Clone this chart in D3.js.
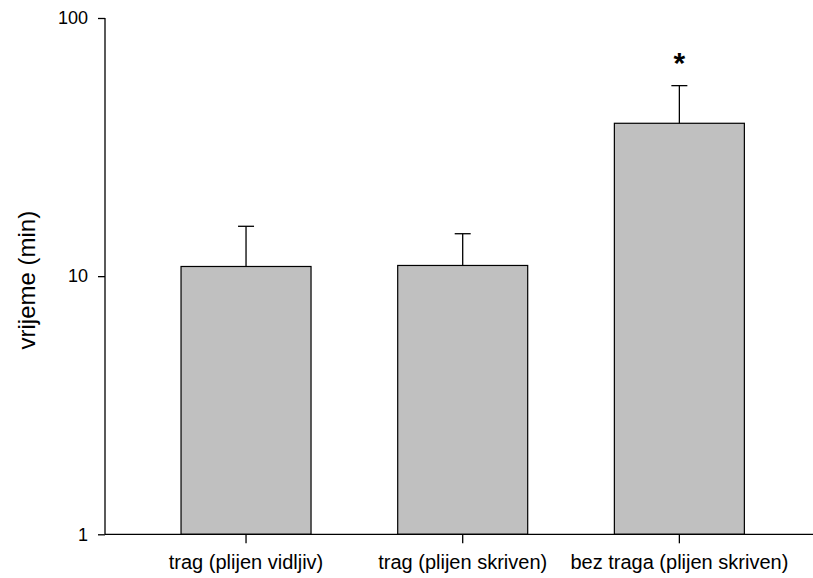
<!DOCTYPE html>
<html>
<head>
<meta charset="utf-8">
<script src="https://cdn.jsdelivr.net/npm/d3@7"></script>
<style>
  html, body { margin: 0; padding: 0; background: #fff; }
  svg { display: block; font-family: Arial, "Liberation Sans", Helvetica, sans-serif; }
</style>
</head>
<body>
<svg id="chart" width="813" height="578"></svg>
<script>
// Mean time per condition, with the upper error bar value (log axis)
const categories = ["trag (plijen vidljiv)", "trag (plijen skriven)", "bez traga (plijen skriven)"];
const means = [10.9, 11.0, 39.1];
const errorTops = [15.6, 14.6, 54.7];
const significance = ["", "", "*"];
const yTicks = [1, 10, 100];
const yTitle = "vrijeme (min)";

const svg = d3.select("#chart");
const plotLeft = 105, plotRight = 813, plotTop = 18, plotBottom = 534.3;

const x = d3.scaleBand()
  .domain(categories)
  .range([137.7, 787.7])
  .paddingInner(0.4)
  .paddingOuter(0.2);

const y = d3.scaleLog()
  .domain([1, 100])
  .range([plotBottom, plotTop]);

// bars
svg.append("g").selectAll("rect")
  .data(categories)
  .join("rect")
  .attr("x", d => x(d))
  .attr("width", x.bandwidth())
  .attr("y", (d, i) => y(means[i]))
  .attr("height", (d, i) => y(1) - y(means[i]))
  .attr("fill", "#c0c0c0")
  .attr("stroke", "#000")
  .attr("stroke-width", 1.2);

// upper error bars
const err = svg.append("g").attr("stroke", "#000").attr("stroke-width", 1.3);
categories.forEach((c, i) => {
  const cx = x(c) + x.bandwidth() / 2;
  err.append("line")
    .attr("x1", cx).attr("x2", cx)
    .attr("y1", y(means[i])).attr("y2", y(errorTops[i]));
  err.append("line")
    .attr("x1", cx - 8).attr("x2", cx + 8)
    .attr("y1", y(errorTops[i])).attr("y2", y(errorTops[i]));
});

// significance marks
svg.append("g").selectAll("text")
  .data(categories)
  .join("text")
  .attr("x", d => x(d) + x.bandwidth() / 2)
  .attr("y", (d, i) => y(errorTops[i]) - 13)
  .attr("text-anchor", "middle")
  .attr("font-size", 30)
  .attr("font-weight", "bold")
  .text((d, i) => significance[i]);

// y axis
const yAxis = svg.append("g")
  .attr("transform", `translate(${plotLeft},0)`)
  .call(d3.axisLeft(y).tickValues(yTicks).tickFormat(d3.format("d")).tickSize(7).tickPadding(10));
yAxis.select(".domain").attr("d", `M0,${plotTop}V${plotBottom}`).attr("stroke-width", 1.3);
yAxis.selectAll(".tick line").attr("stroke-width", 1.3);
yAxis.selectAll(".tick text").attr("font-size", 18).attr("fill", "#000")
  .attr("font-family", "Arial, 'Liberation Sans', sans-serif");

// x axis
const xAxis = svg.append("g")
  .attr("transform", `translate(0,${plotBottom})`)
  .call(d3.axisBottom(x).tickSize(9).tickPadding(12));
xAxis.select(".domain").attr("d", `M${plotLeft},0H${plotRight}`).attr("stroke-width", 1.3);
xAxis.selectAll(".tick line").attr("stroke-width", 1.3);
xAxis.selectAll(".tick text").attr("font-size", 20).attr("fill", "#000")
  .attr("font-family", "Arial, 'Liberation Sans', sans-serif");

// y axis title
svg.append("text")
  .attr("transform", `translate(35,${(plotTop + plotBottom) / 2 + 4}) rotate(-90)`)
  .attr("text-anchor", "middle")
  .attr("font-size", 24)
  .text(yTitle);
</script>
</body>
</html>
